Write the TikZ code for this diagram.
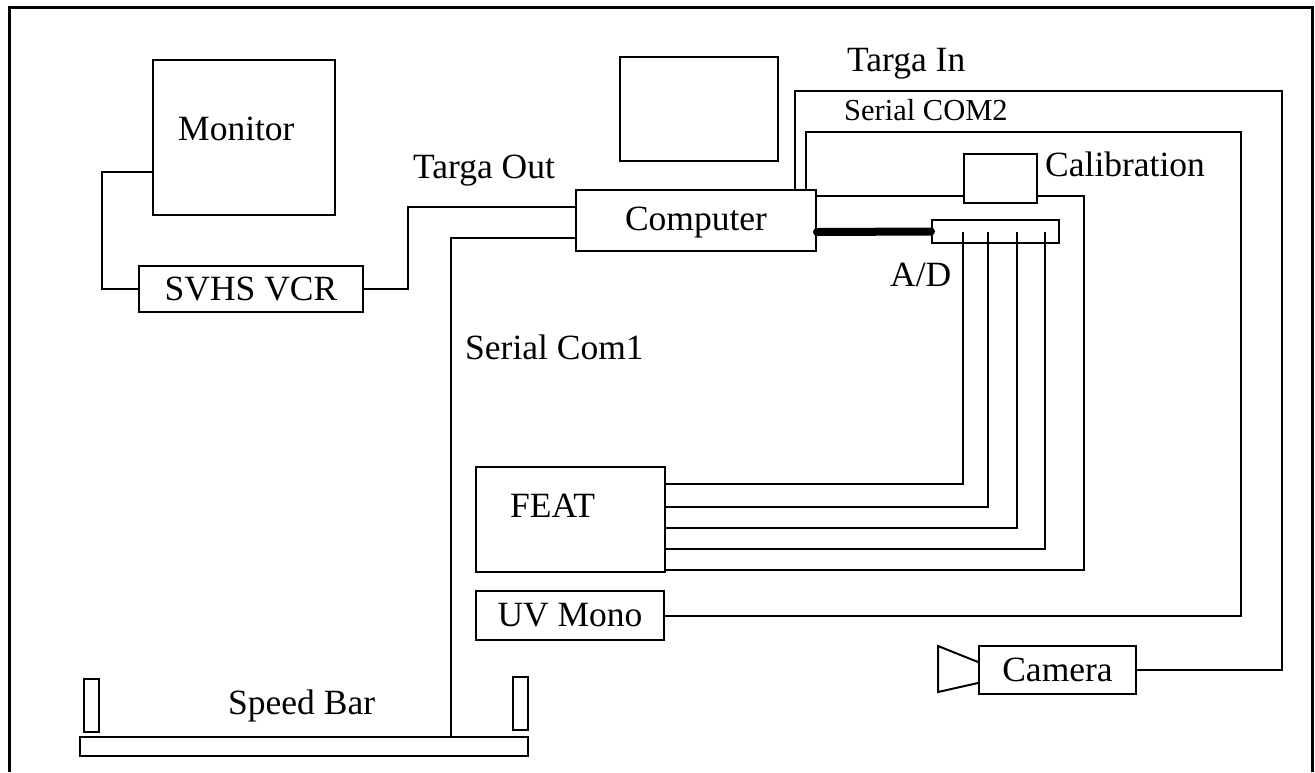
\documentclass[tikz,border=0pt]{standalone}
\usepackage{fontspec}
\setmainfont{Liberation Serif}
\usetikzlibrary{calc, positioning}

\tikzset{
  box/.style={draw, line width=2pt, inner sep=0pt},
  lbl/.style={font=\fontsize{35.5}{40}\selectfont, inner sep=0pt},
  wire/.style={line width=2pt},
  bus/.style={line width=8pt, line cap=round},
}

\begin{document}
\begin{tikzpicture}[x=1pt, y=-1pt]
  \useasboundingbox (0,0) rectangle (1315,772);

  % outer frame, open at the bottom
  \draw[line width=3pt] (9,772) -- (9,7) -- (1312,7) -- (1312,772);

  % --- equipment boxes
  \node[box, minimum width=182pt, minimum height=155pt] (mon) at (244,137.5) {};
  \node[box, lbl, minimum width=224pt, minimum height=46pt] (vcr) at (251,289) {SVHS VCR};
  \node[box, lbl, minimum width=240pt, minimum height=61pt, text depth=4pt] (comp) at (696,220.5) {Computer};
  \node[box, minimum width=158pt, minimum height=104pt] (scr) at (699,109) {};
  \node[box, minimum width=73pt, minimum height=49pt] (cal) at (1000.5,178.5) {};
  \node[box, minimum width=127pt, minimum height=23pt] (ad) at (995.5,231.5) {};
  \node[box, minimum width=189pt, minimum height=105pt] (feat) at (570.5,519.5) {};
  \node[box, lbl, minimum width=188pt, minimum height=49pt] (uv) at (570,615.5) {UV Mono};
  \node[box, lbl, minimum width=157pt, minimum height=48pt] (cam) at (1057.5,670) {Camera};

  % speed bar and its two posts
  \node[box, minimum width=448pt, minimum height=19pt] (bar) at (304,746.5) {};
  \node[box, minimum width=15pt, minimum height=53pt] (postl) at (91.5,705.5) {};
  \node[box, minimum width=15pt, minimum height=53pt] (postr) at (520.5,703.5) {};

  % camera lens
  \draw[wire] ($(cam.west)+(0,-8)$) -- ++(-40,-16) -- ++(0,46) -- ($(cam.west)+(0,13)$);

  % --- labels
  \node[lbl, anchor=west] (monlab) at (178,128.5) {Monitor};
  \node[lbl, anchor=west] (featlab) at (510,506) {FEAT};
  \node[lbl, anchor=west] (callab) at (1045,164) {Calibration};
  \node[lbl, anchor=west] (adlab) at (890,275) {A/D};
  \node[lbl, anchor=west] (tolab) at (413,170.5) {Targa Out};
  \node[lbl, anchor=west] (tilab) at (847,64) {Targa In};
  \node[lbl, anchor=west, font=\fontsize{30.5}{36}\selectfont] (s2lab) at (844,110) {Serial COM2};
  \node[lbl, anchor=west] (s1lab) at (465,347) {Serial Com1};
  \node[lbl, anchor=west] (sblab) at (228,706) {Speed Bar};

  % --- cables
  \draw[wire] ($(mon.west)+(0,34.5)$) -- ++(-50,0) |- (vcr.west);
  \draw[wire] (vcr.east) -- ++(44,0) |- ($(comp.west)+(0,-13.5)$);
  \draw[wire] ($(comp.west)+(0,17.5)$) -| ($(bar.north)+(147,0)$);
  \draw[wire] ($(comp.north)+(99,0)$) -- ++(0,-98) -- ++(487,0) |- (cam.east);
  \draw[wire] ($(comp.north)+(110,0)$) -- ++(0,-57) -- ++(435,0) |- (uv.east);
  \draw[wire] ($(comp.east)+(0,-24.5)$) -- ($(cal.west)+(0,17.5)$);
  \draw[wire] ($(cal.east)+(0,17.5)$) -- ++(46,0) |- ($(feat.east)+(0,50.5)$);
  \draw[bus] ($(comp.east)+(0,11.5)$) -- (ad.west);

  % A/D channels into FEAT
  \foreach \dx/\fy in {-32.5/-35.5, -7.5/-12.5, 21.5/8.5, 49.5/29.5}{
    \draw[wire] ($(ad.center)+(\dx,0)$) |- ($(feat.east)+(0,\fy)$);
  }
\end{tikzpicture}
\end{document}
